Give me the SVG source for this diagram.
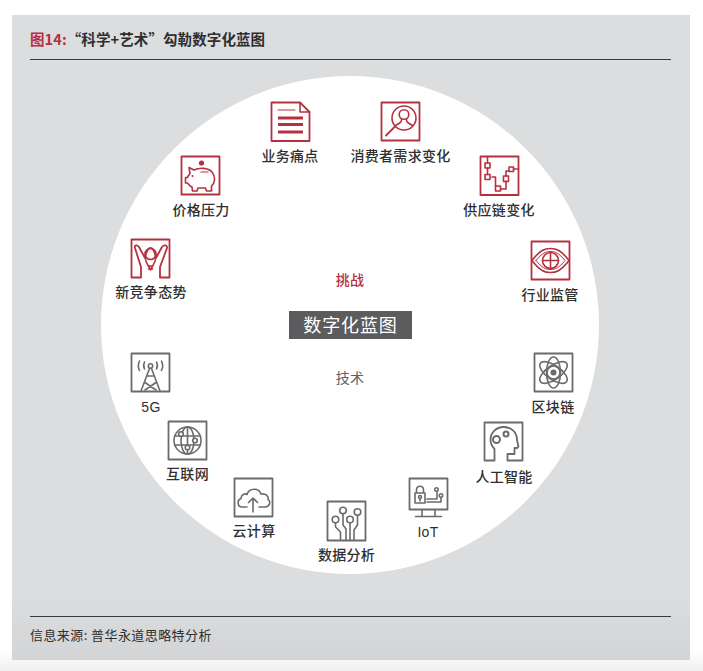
<svg xmlns="http://www.w3.org/2000/svg" width="703" height="671" viewBox="0 0 703 671">
<style>
text{font-family:"Noto Sans CJK SC","Liberation Sans",sans-serif;fill:#2f2f30}
.l{font-size:14px;text-anchor:middle;letter-spacing:.3px;font-weight:500}
.box{fill:#fff;stroke-width:1.8}
.r{fill:none;stroke:#b5313f;stroke-width:1.6;stroke-linejoin:round;stroke-linecap:round}
.g{fill:none;stroke:#6a6b6d;stroke-width:1.6;stroke-linejoin:round;stroke-linecap:round}
.r .box{stroke:#b5313f}.g .box{stroke:#6a6b6d}
</style>
<defs>
<linearGradient id="bg" x1="0" y1="0" x2="0" y2="1"><stop offset="0" stop-color="#fff"/><stop offset=".97" stop-color="#fff"/><stop offset="1" stop-color="#efefef"/></linearGradient>
<linearGradient id="p" x1="0" y1="0" x2="0" y2="1"><stop offset="0" stop-color="#dcddde"/><stop offset=".9" stop-color="#dcddde"/><stop offset="1" stop-color="#d3d4d6"/></linearGradient>
</defs>
<rect width="703" height="671" fill="url(#bg)"/>
<rect x="12" y="15" width="678" height="645" fill="url(#p)"/>
<line x1="30" y1="59.500" x2="671" y2="59.500" stroke="#3a3a3c" stroke-width="1"/>
<line x1="30" y1="616.500" x2="671" y2="616.500" stroke="#3a3a3c" stroke-width="1"/>
<circle cx="350" cy="325" r="249" fill="#fff"/>
<text x="30" y="45" font-size="14.500" font-weight="700" letter-spacing=".1"><tspan style="fill:#b5313f">图14:</tspan>“科学+艺术”勾勒数字化蓝图</text>
<text x="30" y="640" font-size="13" letter-spacing=".42">信息来源: 普华永道思略特分析</text>
<g id="center">
<rect x="289" y="311" width="123" height="28" fill="#5c5c5e"/>
<text x="350.500" y="331.500" font-size="18" text-anchor="middle" letter-spacing=".9" style="fill:#fff">数字化蓝图</text>
<text x="350" y="285" class="l" style="fill:#b5313f">挑战</text>
<text x="350" y="383" class="l" style="fill:#5f6062;font-weight:400">技术</text>
</g>
<g id="connectors"></g>

<g id="n-pain"><g class="r" transform="translate(271,102)">
<path class="box" d="M.5.5H29L38.500 10V39H.5Z"/><path d="M29 .5V10H38.500"/>
<path d="M7 8H24" stroke-width="1"/><path d="M7 16H32M7 22.500H32M7 30H32" stroke-width="3" stroke-linecap="butt"/>
</g><text class="l" x="290" y="160.500">业务痛点</text></g>

<g id="n-consumer"><g class="r" transform="translate(381,102)">
<rect class="box" x=".5" y=".5" width="38" height="38"/>
<circle cx="23" cy="16" r="12"/><circle cx="23" cy="12.500" r="4.800"/>
<path d="M20.500 17C21 20 19 21 14.500 23.500M25.500 17C25 20 27 21 31.500 23.500"/>
<path d="M14 24.500L5 33.500" stroke-width="1.800"/>
</g><text class="l" x="400.500" y="161">消费者需求变化</text></g>

<g id="n-price"><g class="r" transform="translate(181,156)">
<rect class="box" x=".5" y=".5" width="38" height="38"/>
<circle cx="20.500" cy="7" r="2.600" fill="#b5313f" stroke="none"/>
<path d="M8 11.500L13 14C18 11.500 27 11.500 31 16C35 21 34 27 30.500 30V35H25.500L24.500 32H17L16 35H11.500L11 31C8.500 30 7.500 28 6.500 27H4.500V21.500H6.500C7 19.500 8.500 18.500 9 17.500Z"/>
<path d="M20 16H27" stroke-width="1.200"/><circle cx="11.500" cy="20" r="1" fill="#b5313f" stroke="none"/>
</g><text class="l" x="201" y="214.500">价格压力</text></g>

<g id="n-competition"><g class="r" transform="translate(131,239)">
<path class="box" d="M.5 38.500V.5H38.500V38.500H29V28L36 9C36.500 6 33 5.500 31 8L25 19C24 14 22 9 19.500 9C16.500 9 15 14 14 19L8 8C6 5.500 3 6 4 9L10 28V38.500Z"/>
<circle cx="19.500" cy="15" r="5.500"/><path d="M14.500 20C15 25 18 27 19.500 31C21 27 24 25 24.500 20M17.500 27H21.500M17.500 30H21.500"/>
</g><text class="l" x="151" y="297">新竞争态势</text></g>

<g id="n-supply"><g class="r" transform="translate(480,156)">
<rect class="box" x=".5" y=".5" width="38" height="38.500"/>
<path d="M7.500 .5V7M7.500 12V18.500M12 21H15.500V30M20.500 33H26V25M26 20V15H29M33.500 13H38.500"/>
<rect x="5" y="7" width="5" height="5"/><rect x="5" y="18.500" width="5" height="5"/><rect x="15.500" y="30" width="5" height="5"/><rect x="23.500" y="20" width="5" height="5.500"/><rect x="29" y="11" width="4.500" height="4.500"/>
</g><text class="l" x="499" y="215">供应链变化</text></g>

<g id="n-regulation"><g class="r" transform="translate(531,241)">
<rect class="box" x=".5" y=".5" width="38" height="38"/>
<path d="M1 19.500C9 9 14 7.500 19.500 7.500C25 7.500 30 9 38 19.500C30 30 25 31.500 19.500 31.500C14 31.500 9 30 1 19.500Z"/>
<path d="M5 19.500C11 12 15 10.500 19.500 10.500C24 10.500 28 12 34 19.500C28 27 24 28.500 19.500 28.500C15 28.500 11 27 5 19.500Z" stroke-width="1"/>
<circle cx="19.500" cy="19.500" r="8"/><path d="M19.500 11.500V27.500M11.500 19.500H27.500"/>
</g><text class="l" x="550" y="300">行业监管</text></g>

<g id="n-5g"><g class="g" transform="translate(131,353)">
<rect class="box" x=".5" y=".5" width="38" height="38"/>
<circle cx="19.500" cy="13" r="2.200"/>
<path d="M18.500 15.500L10 38M20.500 15.500L29 38M16.500 23H22.500M14 29.500L25 37M25 29.500L14 37"/>
<path d="M13.500 9C12.500 11 12.500 14 13.500 16M25.500 9C26.500 11 26.500 14 25.500 16M8.500 8C7 11 7 14.500 8.500 17.500M30.500 8C32 11 32 14.500 30.500 17.500"/>
</g><text class="l" x="151" y="412" style="font-family:'Liberation Sans',sans-serif">5G</text></g>

<g id="n-internet"><g class="g" transform="translate(168,421)">
<rect class="box" x=".5" y=".5" width="38" height="38"/>
<circle cx="19.500" cy="19.500" r="13.500"/>
<ellipse cx="19.500" cy="19.500" rx="6.500" ry="13.500"/>
<path d="M19.500 6V33M6.500 15H32.500M6.500 24H32.500"/>
<circle cx="13" cy="13" r="2.300" fill="#fff"/><circle cx="27" cy="19.500" r="2.300" fill="#fff"/><circle cx="19.500" cy="26.500" r="2.300" fill="#fff"/>
</g><text class="l" x="187.500" y="479">互联网</text></g>

<g id="n-cloud"><g class="g" transform="translate(234,478)">
<rect class="box" x=".5" y=".5" width="38" height="38"/>
<path d="M13 29H8C3.500 29 2.500 22 7 20.500C7 16.500 11 15 13 16.500C15 9.500 25 9.500 27 16C32 15 35 19 34 21.500C37 23 36 29 31 29H25"/>
<path d="M19 34V20M14.500 24.500L19 20L23.500 24.500"/>
</g><text class="l" x="254" y="536">云计算</text></g>

<g id="n-data"><g class="g" transform="translate(327,501)">
<rect class="box" x=".5" y=".5" width="38" height="39"/>
<circle cx="16" cy="9.500" r="3.300"/><circle cx="30.500" cy="11" r="3.300"/><circle cx="8.500" cy="18.500" r="3.300"/><circle cx="23" cy="18.500" r="3.300"/>
<path d="M8.500 22V26L13.500 31V39.500M16 13V24L19 28V39.500M23 22V39.500M30.500 14.500V24L27 29V39.500"/>
</g><text class="l" x="346.500" y="560">数据分析</text></g>

<g id="n-iot"><g class="g" transform="translate(409,478)">
<rect class="box" x=".5" y=".5" width="38" height="31"/>
<path d="M6 15H16V25H6ZM7.500 15V12C7.500 7 14.500 7 14.500 12V15"/>
<circle cx="11" cy="19" r="1.500"/><path d="M11 20.500V23"/>
<path d="M18 24H32V19M18 21H28V13"/><circle cx="27.500" cy="11.500" r="1.700" fill="#fff"/><circle cx="32" cy="17.500" r="1.700" fill="#fff"/>
<path d="M13 31.500V38M26 31.500V38M6.500 38.500H32.500"/></g><text class="l" x="428" y="537" style="font-family:'Liberation Sans',sans-serif">IoT</text></g>

<g id="n-ai"><g class="g" transform="translate(484,422)">
<path class="box" d="M.5.5H38.500V38.500H23.500V32H30.500V26H33L34.500 24.500L33 18C33 9 26 5 19.500 5C12 5 6.500 11 6.500 17.500C6.500 22 8.500 25 10.500 27V38.500H.5Z"/>
<circle cx="12.500" cy="17.500" r="3.500" stroke-width="2"/><circle cx="22" cy="12" r="2.500" stroke-width="2"/>
</g><text class="l" x="504" y="482">人工智能</text></g>

<g id="n-chain"><g class="g" transform="translate(534,353)">
<rect class="box" x=".5" y=".5" width="38" height="38"/>
<circle cx="19.500" cy="19.500" r="3" fill="#6a6b6d" stroke="none"/><circle cx="19.500" cy="19.500" r="6.500"/>
<ellipse cx="19.500" cy="19.500" rx="7" ry="16" transform="rotate(55 19.500 19.500)"/>
<ellipse cx="19.500" cy="19.500" rx="7" ry="16" transform="rotate(-55 19.500 19.500)"/>
<ellipse cx="19.500" cy="19.500" rx="7" ry="15.500"/>
</g><text class="l" x="553" y="412">区块链</text></g>
</svg>
